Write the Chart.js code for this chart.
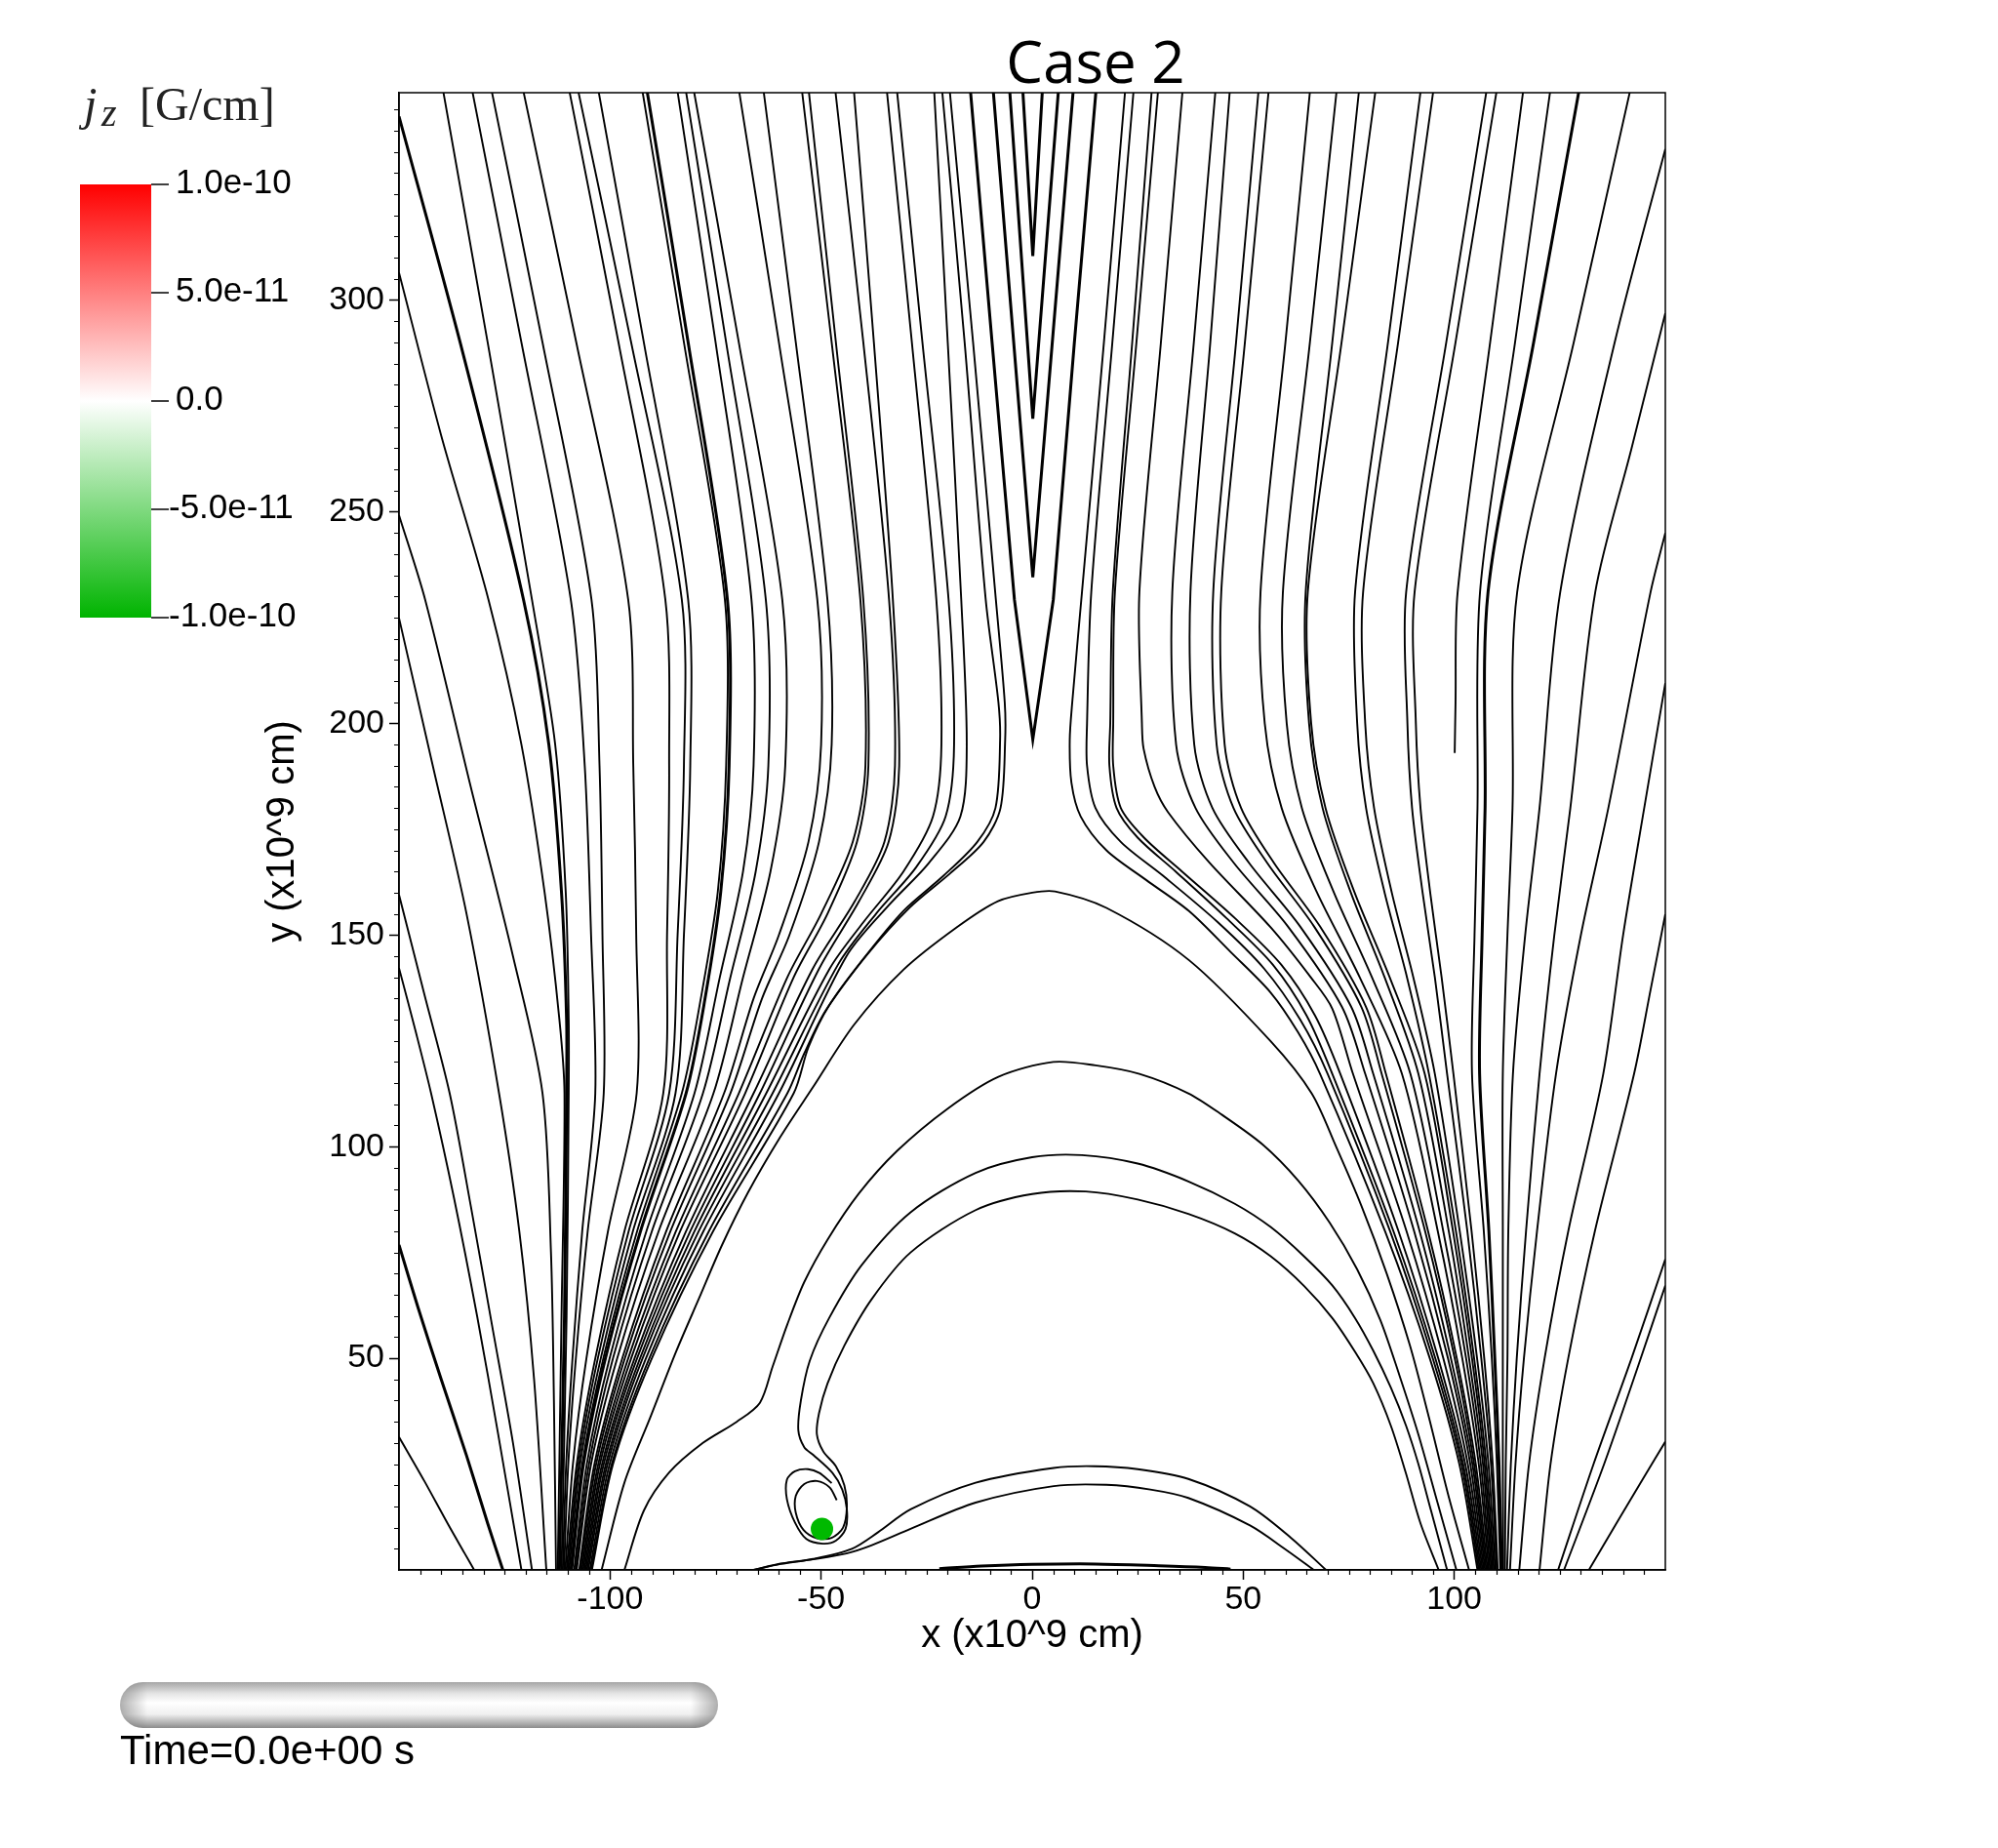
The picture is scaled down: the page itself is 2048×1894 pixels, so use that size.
<!DOCTYPE html>
<html>
<head>
<meta charset="utf-8">
<script src="https://cdn.jsdelivr.net/npm/chart.js@4.4.1/dist/chart.umd.min.js"></script>
<style>
  html, body { margin: 0; padding: 0; background: #fff; }
  #wrap { position: relative; width: 2048px; height: 1894px; }
  #fieldChart { position: absolute; left: 0; top: 0; }
</style>
</head>
<body>
<div id="wrap"><canvas id="fieldChart" width="2048" height="1894"></canvas></div>
<script>
// Axis ticks
const xTickValues = [-100, -50, 0, 50, 100];
const yTickValues = [50, 100, 150, 200, 250, 300];

// Colour bar (jz, G/cm)
const colorbarValues = [1e-10, 5e-11, 0, -5e-11, -1e-10];
const colorbarLabels = ['1.0e-10', '5.0e-11', '0.0', '-5.0e-11', '-1.0e-10'];

// Green source point
const sourcePoint = [[-49.8, 9.7]];

// Field lines entering from the left edge
const leftEdgeLines = [
    [[-150,31.4],[-144,21],[-138.5,11],[-134.5,4],[-132.2,0]],
    [[-150,76.8],[-145.5,62],[-140,45],[-134,27],[-129,11],[-125.4,0]],
    [[-150,142.2],[-146,127],[-142.4,112.6],[-137,88],[-131.5,60],[-126.5,32],[-121,0]],
    [[-150,159.5],[-144,136],[-138,112.6],[-133,86],[-128,58],[-123,30],[-118.5,0]],
    [[-150,224.9],[-142,190],[-134,155],[-126.3,112.6],[-121.5,80],[-118,45],[-115.1,0]],
    [[-150,249.2],[-143.8,229.2],[-133,185],[-123,145],[-116,112.6],[-114,75],[-113.3,40],[-112.8,0]],
    [[-150,306.5],[-140,268],[-128.8,229.2],[-121,195],[-115.5,160],[-112,130],[-110.8,112.6],[-111.5,60],[-112.4,0]],
    [[-150,343.4],[-135,288],[-120.5,229.2],[-114.5,195],[-111.5,160],[-110.3,130],[-110.3,112.6],[-110.8,60],[-112,0]]
];

// Open field lines from the top, ending in the left footpoint
const leftFanLines = [
    [[-139.5,349.2],[-129,290],[-118.5,229.2],[-113,195],[-110.5,160],[-109.8,130],[-109.8,112.6],[-110.3,60],[-111.5,0]],
    [[-132.6,349.2],[-121,290],[-109.3,229.2],[-106,190],[-104.5,150],[-103.5,112.6],[-106.6,80],[-108.9,50],[-110.4,25],[-111.2,0]],
    [[-128,349.2],[-116,290],[-104.4,229.2],[-102.5,190],[-101.8,150],[-101.5,112.6],[-105.3,80],[-108.1,50],[-109.9,25],[-110.9,0]],
    [[-120.5,349.2],[-108,290],[-95.7,229.2],[-94.5,190],[-93.8,150],[-93.7,112.6],[-100.5,80],[-105.6,50],[-108.8,25],[-110.6,0]],
    [[-109.6,349.2],[-98,290],[-86.9,229.2],[-86,190],[-86.5,150],[-87.4,112.6],[-96.6,80],[-103.5,50],[-107.9,25],[-110.3,0]],
    [[-107.5,349.2],[-95,290],[-83,229.2],[-82.5,190],[-84,150],[-86,112.6],[-95.6,80],[-102.9,50],[-107.5,25],[-110,0]],
    [[-102.7,349.2],[-92,290],[-81.5,229.2],[-81,190],[-82.5,150],[-84.5,112.6],[-94.6,80],[-102.2,50],[-107.1,25],[-109.7,0]],
    [[-92.3,349.2],[-82.5,290],[-72.8,229.2],[-72.5,190],[-74.5,160],[-78.5,135],[-83,112.6],[-93.6,80],[-101.6,50],[-106.6,25],[-109.4,0]],
    [[-91.2,349.2],[-81.5,290],[-72.2,229.2],[-71.8,190],[-73.8,160],[-77.5,135],[-82,112.6],[-92.8,80],[-101.1,50],[-106.3,25],[-109.1,0]],
    [[-84,349.2],[-75,290],[-66.5,229.2],[-66,190],[-68.5,165],[-74,140],[-80,112.6],[-91.4,80],[-100.1,50],[-105.5,25],[-108.5,0]],
    [[-82,349.2],[-72.5,290],[-63.1,229.2],[-62.5,190],[-65.5,165],[-71.5,140],[-78,112.6],[-90.1,80],[-99.3,50],[-105,25],[-108.2,0]],
    [[-80.1,349.2],[-69.5,290],[-59.2,229.2],[-58.5,190],[-62,165],[-68.5,140],[-75.5,112.6],[-88.5,80],[-98.3,50],[-104.5,25],[-107.9,0]],
    [[-69.4,349.2],[-60,290],[-50.9,229.2],[-50,195],[-53,172],[-60,150],[-66,135],[-73,112.6],[-86.7,80],[-97.1,50],[-103.7,25],[-107.3,0]],
    [[-63.6,349.2],[-56,290],[-48.5,229.2],[-47.5,195],[-50.5,172],[-57.5,150],[-64,135],[-71.5,112.6],[-85.7,80],[-96.5,50],[-103.3,25],[-107,0]],
    [[-54.5,349.2],[-47.5,290],[-40.7,229.2],[-39.5,190],[-42.5,172],[-50,155],[-58,140],[-69.5,112.6],[-84.4,80],[-95.7,50],[-102.8,25],[-106.7,0]],
    [[-52.9,349.2],[-46.5,290],[-40,229.2],[-38.8,190],[-41.5,172],[-48.5,155],[-56.5,140],[-68,112.6],[-83.4,80],[-95,50],[-102.4,25],[-106.4,0]],
    [[-46.6,349.2],[-40,290],[-33.9,229.2],[-32.5,190],[-35,172],[-42,158],[-52,142],[-66,112.6],[-82,80],[-94.2,50],[-101.9,25],[-106.1,0]],
    [[-42.2,349.2],[-37.5,290],[-33,229.2],[-31.5,190],[-34,172],[-41,158],[-50.5,142],[-64.5,112.6],[-81,80],[-93.6,50],[-101.5,25],[-105.8,0]],
    [[-34.4,349.2],[-28.5,290],[-22.7,229.2],[-21.5,195],[-23.5,178],[-30.5,165],[-40,153],[-48,142],[-63,112.6],[-80,80],[-92.9,50],[-101,25],[-105.5,0]],
    [[-32,349.2],[-26,290],[-19.8,229.2],[-18.5,195],[-20.5,178],[-27.5,166],[-37,155],[-46,143],[-61.5,112.6],[-79,80],[-92.3,50],[-100.6,25],[-105.2,0]],
    [[-23.2,349.2],[-20,290],[-16.8,229.2],[-15.5,195],[-17,178],[-24.5,167],[-34,157],[-44,145],[-60,112.6],[-77.9,80],[-91.5,50],[-100.1,25],[-104.8,0]],
    [[-21.3,349.2],[-16,290],[-11,229.2],[-8,205],[-7.6,196],[-8.7,180],[-13,172],[-21,164],[-30.5,155.7],[-40.2,144.1],[-49,132],[-54,122],[-58,112.6],[-76.6,80],[-90.7,50],[-99.6,25],[-104.5,0]],
    [[-19.5,349.2],[-14,290],[-8.6,229.2],[-6.5,205],[-6.4,196],[-7.5,180],[-11.5,172],[-19.5,164.5],[-29,156.5],[-39,145.5],[-48,133.5],[-53,123.5],[-56.5,112.6],[-75.6,80],[-90.1,50],[-99.3,25],[-104.3,0]]
];

// Cusp (Y-point) lines above x = 0
const cuspLines = [
    [[-2.2,349.2],[0.15,310.4],[2.4,349.2]],
    [[-5.3,349.2],[0.15,272],[6.2,349.2]],
    [[-9.2,349.2],[0.15,234.5],[9.7,349.2]],
    [[-14.6,349.2],[-9.5,290],[-4.2,229.2],[0.15,196.2],[5,229.2],[10,290],[15.1,349.2]]
];

// Closed arcade loops
const arcadeLoops = [
    [[-102,0],[-96.6,20.6],[-90.4,36.2],[-84.3,51.7],[-78.9,64.2],[-73.5,76.7],[-67.3,89.2],[-59.6,102.4],[-51.9,114.1],[-42.2,128.8],[-30.5,141.8],[-17.9,151.8],[-8.1,158],[0,160],[5.4,160.3],[17.6,156.4],[37.1,144.1],[56.5,124.9],[66.2,112.6],[72,100],[78,86],[84,70],[89.5,53],[94,36],[98.5,18],[103.5,0]],
    [[-96.6,0],[-92,14],[-86,23],[-78,30],[-70,35],[-64.5,39.5],[-61.5,48],[-58,58],[-54,68],[-48.5,78],[-41,89],[-32,99],[-20,109],[-8,116.5],[5,120],[15,119.2],[25.4,117.2],[37,112.6],[45,107.5],[54.6,100.5],[63,92],[70.5,82],[77,71],[82.5,59],[87,46],[91.5,32],[96,16],[100.5,0]],
    [[98.3,0],[94.5,14],[91.5,25],[88.6,34],[85,43],[80.8,51.8],[76.5,59.5],[71.1,67.2],[64.5,74],[56.5,81],[48,86.5],[37,91.8],[25,96],[11.8,98],[0,97.5],[-13.4,93.8],[-28.8,84.5],[-40.4,72],[-48.1,59.5],[-52.7,49.4],[-54.8,40],[-55.4,33],[-54,29],[-51.9,27.2],[-47.3,22.9],[-45,19],[-43.9,14.3],[-44.2,9.7],[-46.5,6.9],[-49.6,6.2],[-53.5,7.3],[-56.2,11.2],[-58.1,16.7],[-58.1,21.3],[-56.2,23.3],[-53.1,23.8],[-50.4,22.9],[-47.5,20.5]],
    [[96.3,0],[92,11],[88.5,23],[85,34],[80.8,44.1],[76.5,51.5],[71.1,59.5],[64.5,67],[56.5,74.1],[48,79.5],[37,84.1],[25,87.5],[12.7,89.4],[0,88.8],[-13.4,85],[-28.8,75],[-38,64],[-44.5,53],[-48.5,44],[-50.5,37],[-51,32],[-49.5,28],[-46.5,24.5],[-44.5,20],[-43.9,15],[-44.8,10],[-47.5,7.6],[-51,7.5],[-54.2,9.5],[-56,13.5],[-56,17.5],[-54,20.3],[-51,21],[-48,19.5],[-46.3,16.5]]
];

// Low loops near the surface
const lowLoops = [
    [[-66,0],[-59.6,1.5],[-51.9,2.6],[-42.7,5],[-36.5,8.9],[-28.8,14.3],[-13.4,20.6],[5.1,24.1],[14.7,24.5],[25,23.8],[37,21.5],[51.6,15],[61.4,7.5],[69.6,0]],
    [[-66,0],[-59.6,1.4],[-51.9,2.5],[-44,3.9],[-38.1,5.8],[-28.8,9.7],[-13.4,15.9],[5.1,19.8],[17.6,20.1],[28,19],[37,17],[51.6,10.5],[60.5,4.5],[66.7,0]],
    [[-22,0.3],[-12,0.9],[0,1.3],[15,1.4],[30,1],[41,0.6],[47,0.2]]
];

// Open field lines from the top, ending in the right footpoint
const rightFanLines = [
    [[22,349.2],[17,290],[11.8,231],[9.5,205],[8.9,196],[9.3,186],[11.5,178],[17.6,170],[27,163],[37.1,155.7],[47,146],[56.5,136.4],[63,127],[68.2,117.2],[83.6,80],[94.2,50],[101.2,25],[105.5,0]],
    [[24,349.2],[19,290],[14,231],[13,200],[13,190],[15,180],[21,172],[31,164],[44,153],[55,142],[63.5,130],[70,117.2],[84.8,80],[94.9,50],[101.7,25],[105.8,0]],
    [[28.3,349.2],[23.7,290],[19.1,231],[18.5,200],[18.3,190],[20,180],[25,173],[34,165],[46,154],[57,143],[65,131],[71.1,117.2],[85.6,80],[95.5,50],[102.1,25],[106.1,0]],
    [[29.8,349.2],[24.7,290],[19.6,231],[19.2,200],[19.2,190],[21,180],[26.5,173],[35.5,165],[48,154],[59,143],[67,131],[73,117.2],[86.8,80],[96.2,50],[102.6,25],[106.4,0]],
    [[35.6,349.2],[30.5,290],[25.4,231],[26,200],[26.4,194],[29,185],[32.2,179],[41.9,167.2],[56.5,151.8],[66,140],[71.1,132.6],[76,117.2],[88.7,80],[97.4,50],[103.2,25],[106.7,0]],
    [[43.4,349.2],[38.3,290],[33.2,231],[34.1,195],[38.7,180],[47.8,167],[60.6,152],[73.4,133],[78.9,117.2],[90.5,80],[98.5,50],[103.8,25],[107,0]],
    [[46.8,349.2],[42.2,290],[37.5,231],[38.4,195],[42.7,180],[51.4,167],[63.5,152],[75.6,133],[80.8,117.2],[91.8,80],[99.2,50],[104.3,25],[107.3,0]],
    [[53.6,349.2],[48.3,290],[42.9,231],[43.7,195],[47.7,180],[55.7,167],[66.8,152],[78,133],[82.8,117.2],[93.1,80],[100.1,50],[104.7,25],[107.6,0]],
    [[56,349.2],[50.4,290],[44.8,231],[45.6,195],[49.5,180],[57.3,167],[68.2,152],[79.1,133],[83.8,117.2],[93.8,80],[100.6,50],[105.1,25],[107.9,0]],
    [[65.8,349.2],[60,290],[54.1,231],[55.1,200],[59.1,180],[67.5,160],[77.6,140],[87.6,117.2],[96.1,80],[101.9,50],[105.8,25],[108.2,0]],
    [[72.1,349.2],[65.8,290],[59.4,231],[60.3,200],[63.9,180],[71.5,160],[80.5,140],[89.6,117.2],[97.4,80],[102.8,50],[106.3,25],[108.5,0]],
    [[77.4,349.2],[71.1,290],[64.8,231],[65.6,200],[68.8,180],[75.5,160],[83.5,140],[91.5,117.2],[98.7,80],[103.5,50],[106.8,25],[108.8,0]],
    [[81.3,349.2],[73.3,290],[65.3,231],[66.1,200],[69.5,180],[76.4,160],[84.7,140],[93,117.2],[99.7,80],[104.2,50],[107.2,25],[109.1,0]],
    [[92,349.2],[84.3,290],[76.5,231],[77,200],[79.1,180],[83.5,160],[88.8,140],[94,117.2],[100.4,80],[104.7,50],[107.6,25],[109.4,0]],
    [[95,349.2],[86.7,290],[78.4,231],[78.9,200],[81,180],[85.2,160],[90.3,140],[95.4,117.2],[101.3,80],[105.4,50],[108.1,25],[109.7,0]],
    [[107.6,349.2],[98.1,290],[88.6,231],[88.9,200],[90,180],[92.5,160],[95.4,140],[98.3,117.2],[103.1,80],[106.4,50],[108.7,25],[110,0]],
    [[110,349.2],[100.3,290],[90.6,231],[90.9,200],[92,180],[94.3,160],[97,140],[99.8,117.2],[104.1,80],[107.1,50],[109.1,25],[110.3,0]],
    [[116.3,349.2],[108.5,290],[100.8,231],[100.3,205],[100.1,193]],
    [[122.7,349.2],[114.4,290],[106.1,231],[105.5,180],[104.8,150],[104.2,117.2],[107,80],[108.9,50],[110.1,25],[110.9,0]],
    [[129.5,349.2],[118.8,290],[108,231],[107.3,180],[106.6,150],[106,117.2],[108.2,80],[109.6,50],[110.6,25],[111.2,0]],
    [[141.6,349.2],[128.3,290],[114.9,231],[113.8,180],[112.6,150],[111.5,117.2],[111.5,80],[111.5,50],[111.5,25],[111.6,0]]
];

// Field lines entering from the right edge
const rightEdgeLines = [
    [[150,335.7],[138,290],[125.1,231],[120.2,180],[116.8,150],[113.9,117.2],[112.8,80],[112.6,50],[112.2,25],[112,0]],
    [[150,296.9],[142,265],[133.4,231],[127.5,180],[123.7,150],[120.2,117.2],[117,80],[114.8,50],[113.4,25],[112.5,0]],
    [[150,245],[146.5,231],[136.5,180],[130,150],[124.1,117.2],[119.6,80],[116.5,50],[114.5,25],[113.2,0]],
    [[150,209.5],[145,180],[140,150],[135.3,117.2],[127,80],[121.4,50],[117.7,25],[115.4,0]],
    [[150,154.9],[146.5,137],[142.6,117.2],[133.3,80],[127,50],[122.8,25],[120.2,0]],
    [[150,73.4],[142,50],[133,25],[124.6,0]],
    [[150,67.2],[143.5,48],[135.5,25],[126,0]],
    [[150,30.3],[145,22],[139,12],[131.9,0]]
];

// Which lines are drawn as doubled (thicker) strokes
const thickLeftEdge = [1, 7];
const thickLeftFan = [8];
const thickRightFan = [19];

const sansFont = '"Liberation Sans", Arial, sans-serif';
Chart.defaults.font.family = sansFont;
Chart.defaults.color = '#000';

const toLineDatasets = (lines, thickIdx, tension) => lines.map((pts, i) => ({
    data: pts.map(([x, y]) => ({ x, y })),
    showLine: true,
    borderColor: '#000',
    borderWidth: thickIdx.includes(i) ? 3 : 1.9,
    pointRadius: 0,
    pointHitRadius: 0,
    tension: tension,
    fill: false
}));

const datasets = [
    {
        data: sourcePoint.map(([x, y]) => ({ x, y })),
        pointRadius: 11.5,
        pointBackgroundColor: 'rgb(0,185,0)',
        pointBorderWidth: 0,
        showLine: false
    },
    ...toLineDatasets(leftEdgeLines, thickLeftEdge, 0.3),
    ...toLineDatasets(leftFanLines, thickLeftFan, 0.3),
    ...toLineDatasets(cuspLines, [0, 1, 2, 3], 0),
    ...toLineDatasets(arcadeLoops, [], 0.3),
    ...toLineDatasets(lowLoops, [2], 0.3),
    ...toLineDatasets(rightFanLines, thickRightFan, 0.3),
    ...toLineDatasets(rightEdgeLines, [], 0.3)
];

// Frame, minor ticks, title, colour bar and time slider
const decorPlugin = {
    id: 'decor',
    afterDraw(chart) {
        const { ctx, chartArea: a, scales: { x, y } } = chart;
        ctx.save();

        ctx.strokeStyle = '#000';
        ctx.lineWidth = 1.5;
        ctx.strokeRect(a.left, a.top, a.right - a.left, a.bottom - a.top);

        ctx.lineWidth = 1.2;
        ctx.beginPath();
        for (let v = -145; v < 150; v += 5) {
            if (v % 50 === 0) continue;
            const px = Math.round(x.getPixelForValue(v)) + 0.5;
            ctx.moveTo(px, a.bottom);
            ctx.lineTo(px, a.bottom + 5);
        }
        for (let v = 5; v < 349; v += 5) {
            if (v % 50 === 0) continue;
            const py = Math.round(y.getPixelForValue(v)) + 0.5;
            ctx.moveTo(a.left, py);
            ctx.lineTo(a.left - 5, py);
        }
        ctx.stroke();

        // title
        ctx.fillStyle = '#000';
        ctx.font = '60px "Open Sans", "Noto Sans", sans-serif';
        ctx.textAlign = 'center';
        ctx.textBaseline = 'alphabetic';
        ctx.fillText('Case 2', 1123, 85);

        // colour bar
        const cb = { left: 82, right: 155, top: 189, bottom: 633 };
        const g = ctx.createLinearGradient(0, cb.top, 0, cb.bottom);
        g.addColorStop(0, 'rgb(255,0,0)');
        g.addColorStop(0.5, 'rgb(255,255,255)');
        g.addColorStop(1, 'rgb(0,180,0)');
        ctx.fillStyle = g;
        ctx.fillRect(cb.left, cb.top, cb.right - cb.left, cb.bottom - cb.top);

        const vMax = colorbarValues[0], vMin = colorbarValues[colorbarValues.length - 1];
        ctx.strokeStyle = '#000';
        ctx.lineWidth = 1.5;
        ctx.font = '35px ' + sansFont;
        ctx.textAlign = 'left';
        ctx.textBaseline = 'middle';
        ctx.fillStyle = '#000';
        colorbarValues.forEach((v, i) => {
            const py = cb.top + (vMax - v) / (vMax - vMin) * (cb.bottom - cb.top);
            ctx.beginPath();
            ctx.moveTo(cb.right, py);
            ctx.lineTo(cb.right + 18, py);
            ctx.stroke();
            ctx.fillText(colorbarLabels[i], v < 0 ? 173 : 180, py - 1);
        });

        // colour bar title: j_z [G/cm]
        ctx.fillStyle = '#222';
        ctx.textBaseline = 'alphabetic';
        ctx.font = 'italic 48px "Liberation Serif", "DejaVu Serif", serif';
        ctx.fillText('j', 86, 123);
        ctx.font = 'italic 40px "Liberation Serif", "DejaVu Serif", serif';
        ctx.fillText('z', 104, 129);
        ctx.font = '48px "Liberation Serif", "DejaVu Serif", serif';
        ctx.fillText('[G/cm]', 143, 123);

        // time slider
        const s = { x0: 123, x1: 736, y0: 1724, y1: 1771 };
        const r = (s.y1 - s.y0) / 2;
        ctx.beginPath();
        ctx.moveTo(s.x0 + r, s.y0);
        ctx.lineTo(s.x1 - r, s.y0);
        ctx.arc(s.x1 - r, s.y0 + r, r, -Math.PI / 2, Math.PI / 2);
        ctx.lineTo(s.x0 + r, s.y1);
        ctx.arc(s.x0 + r, s.y0 + r, r, Math.PI / 2, Math.PI * 1.5);
        ctx.closePath();
        const sg = ctx.createLinearGradient(0, s.y0, 0, s.y1);
        sg.addColorStop(0, '#a6a6a6');
        sg.addColorStop(0.25, '#e4e4e4');
        sg.addColorStop(0.45, '#ffffff');
        sg.addColorStop(0.7, '#f0f0f0');
        sg.addColorStop(1, '#8c8c8c');
        ctx.fillStyle = sg;
        ctx.fill();
        ctx.save();
        ctx.clip();
        const hg = ctx.createLinearGradient(s.x0, 0, s.x1, 0);
        const e = 28 / (s.x1 - s.x0);
        hg.addColorStop(0, 'rgba(110,110,110,0.55)');
        hg.addColorStop(e, 'rgba(110,110,110,0)');
        hg.addColorStop(1 - e, 'rgba(110,110,110,0)');
        hg.addColorStop(1, 'rgba(110,110,110,0.55)');
        ctx.fillStyle = hg;
        ctx.fillRect(s.x0, s.y0, s.x1 - s.x0, s.y1 - s.y0);
        ctx.restore();

        ctx.fillStyle = '#000';
        ctx.font = '42px ' + sansFont;
        ctx.textAlign = 'left';
        ctx.textBaseline = 'alphabetic';
        ctx.fillText('Time=0.0e+00 s', 123, 1808);

        ctx.restore();
    }
};

const createFieldChart = () => {
    const ctx = document.getElementById('fieldChart').getContext('2d');
    return new Chart(ctx, {
        type: 'scatter',
        data: { datasets },
        options: {
            responsive: false,
            animation: false,
            devicePixelRatio: 1,
            events: [],
            layout: { padding: { left: 0, top: 95, right: 341, bottom: 175 } },
            plugins: {
                legend: { display: false },
                tooltip: { enabled: false },
                title: { display: false }
            },
            scales: {
                x: {
                    type: 'linear',
                    position: 'bottom',
                    min: -150,
                    max: 150,
                    afterBuildTicks: (scale) => { scale.ticks = xTickValues.map(v => ({ value: v })); },
                    afterFit: (scale) => { scale.height = 110; },
                    ticks: { font: { size: 34 }, color: '#000', padding: 0, maxRotation: 0, autoSkip: false },
                    grid: { drawOnChartArea: false, drawTicks: true, tickLength: 10, tickColor: '#000', tickWidth: 1.5 },
                    border: { display: true, color: '#000', width: 1.5 },
                    title: {
                        display: true,
                        text: 'x (x10^9 cm)',
                        color: '#000',
                        font: { size: 40 },
                        padding: { top: 0, bottom: 18 }
                    }
                },
                y: {
                    type: 'linear',
                    position: 'left',
                    min: 0,
                    max: 349,
                    afterBuildTicks: (scale) => { scale.ticks = yTickValues.map(v => ({ value: v })); },
                    afterFit: (scale) => { scale.width = 409; },
                    ticks: { font: { size: 34 }, color: '#000', padding: 5, autoSkip: false },
                    grid: { drawOnChartArea: false, drawTicks: true, tickLength: 10, tickColor: '#000', tickWidth: 1.5 },
                    border: { display: true, color: '#000', width: 1.5 },
                    title: {
                        display: true,
                        text: 'y (x10^9 cm)',
                        color: '#000',
                        font: { size: 40 },
                        padding: { top: 266, bottom: 0 }
                    }
                }
            }
        },
        plugins: [decorPlugin]
    });
};

document.addEventListener('DOMContentLoaded', () => {
    const fieldChart = createFieldChart();
});
</script>
</body>
</html>
